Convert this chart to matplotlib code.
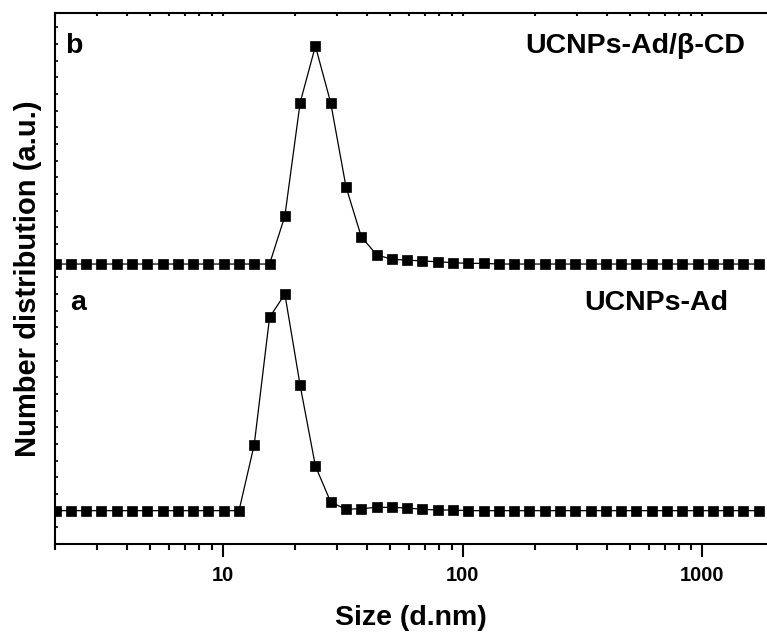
import matplotlib
matplotlib.use("Agg")
import matplotlib.pyplot as plt
from matplotlib.ticker import LogLocator, MultipleLocator, NullFormatter, FixedLocator

plt.rcParams["font.family"] = ["Liberation Sans", "DejaVu Sans"]
plt.rcParams["font.weight"] = "bold"

# DLS size bins (d.nm)
size_nm = [2.010, 2.328, 2.696, 3.122, 3.615, 4.187, 4.849, 5.615, 6.503, 7.531,
           8.721, 10.10, 11.70, 13.54, 15.69, 18.17, 21.04, 24.36, 28.21, 32.67,
           37.84, 43.82, 50.75, 58.77, 68.06, 78.82, 91.28, 105.7, 122.4, 141.8,
           164.2, 190.1, 220.2, 255.0, 295.3, 342.0, 396.1, 458.7, 531.2, 615.1,
           712.4, 825.0, 955.4, 1106, 1281, 1484, 1718]

# number distribution (%), curve a: UCNPs-Ad
number_a = [0, 0, 0, 0, 0, 0, 0, 0, 0, 0,
            0, 0, 0, 9.9, 29.0, 32.5, 18.8, 6.7, 1.3, 0.2,
            0.3, 0.5, 0.5, 0.4, 0.2, 0.1, 0.1, 0, 0, 0,
            0, 0, 0, 0, 0, 0, 0, 0, 0, 0,
            0, 0, 0, 0, 0, 0, 0]

# number distribution (%), curve b: UCNPs-Ad/beta-CD
number_b = [0, 0, 0, 0, 0, 0, 0, 0, 0, 0,
            0, 0, 0, 0, 0, 7.2, 24.2, 32.7, 24.2, 11.6,
            4.1, 1.4, 0.7, 0.6, 0.45, 0.35, 0.2, 0.1, 0.1, 0,
            0, 0, 0, 0, 0, 0, 0, 0, 0, 0,
            0, 0, 0, 0, 0, 0, 0]

offset_b = 37.0  # vertical stacking offset of curve b

W, H = 767, 637
fig = plt.figure(figsize=(W / 100, H / 100), dpi=100)
ax = fig.add_axes([55 / W, (H - 544) / H, (W - 55) / W, (544 - 13) / H])

style = dict(color="black", lw=0.9, marker="s", ms=7.2, mfc="black", mec="black", mew=0.5)
ax.plot(size_nm, number_a, **style)
ax.plot(size_nm, [v + offset_b for v in number_b], **style)

ax.set_xscale("log")
ax.set_xlim(2.0, 1860)
ax.set_ylim(-5.0, 74.66)

# --- spines ---
for side in ("left", "bottom", "top"):
    ax.spines[side].set_linewidth(1.5)
ax.spines["right"].set_visible(False)

# --- x ticks: outward on bottom, tiny inward on top ---
ax.xaxis.set_major_locator(FixedLocator([10, 100, 1000]))
ax.xaxis.set_minor_locator(LogLocator(base=10, subs=range(2, 10), numticks=20))
ax.xaxis.set_minor_formatter(NullFormatter())
ax.set_xticklabels(["10", "100", "1000"])
ax.tick_params(axis="x", which="major", direction="out", length=9.5, width=1.5,
               labelsize=14.5, pad=6, top=True)
ax.tick_params(axis="x", which="minor", direction="out", length=4.5, width=1.5, top=True)
for t in ax.xaxis.get_major_ticks() + ax.xaxis.get_minor_ticks():
    t.tick2line.set_markersize(2)
    t.tick2line.set_marker(3)

# --- y ticks: small inward marks, no labels ---
ax.yaxis.set_major_locator(MultipleLocator(2.5))
ax.yaxis.set_major_formatter(NullFormatter())
ax.tick_params(axis="y", which="major", direction="in", length=2.5, width=1.2, right=False)

ax.set_xlabel("Size (d.nm)", fontsize=20.5, fontweight="bold", labelpad=15)
ax.set_ylabel("Number distribution (a.u.)", fontsize=21, fontweight="bold", labelpad=6)

# --- curve labels ---
ax.text(0.014, 0.925, "b", transform=ax.transAxes, fontsize=20.5, fontweight="bold",
        ha="left", va="baseline")
ax.text(0.969, 0.925, "UCNPs-Ad/\u03b2-CD", transform=ax.transAxes, fontsize=20.5,
        fontweight="bold", ha="right", va="baseline")
ax.text(0.021, 0.4407, "a", transform=ax.transAxes, fontsize=20.5, fontweight="bold",
        ha="left", va="baseline")
ax.text(0.945, 0.4407, "UCNPs-Ad", transform=ax.transAxes, fontsize=20.5,
        fontweight="bold", ha="right", va="baseline")

fig.savefig("out.png", dpi=100)
